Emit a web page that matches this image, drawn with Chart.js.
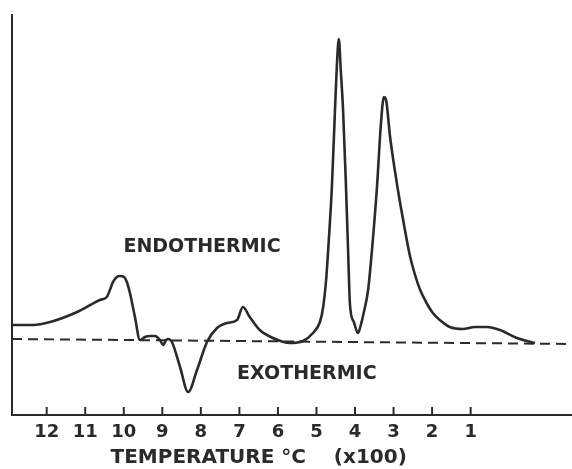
<!DOCTYPE html>
<html>
<head>
<meta charset="utf-8">
<script src="https://cdn.jsdelivr.net/npm/chart.js@4"></script>
<style>
  body { margin: 0; background: #fff; }
  canvas { display: block; }
</style>
</head>
<body>
<canvas id="myChart" width="572" height="469"></canvas>
<script>
// temperature (x100 °C) from left to right
const temps = [12.90, 12.35, 11.91, 11.21, 10.62, 10.44, 10.36, 10.28, 10.18, 10.10,
  9.99, 9.92, 9.84, 9.71, 9.58, 9.45, 9.32, 9.19, 9.06, 8.98,
  8.90, 8.85, 8.75, 8.54, 8.33, 8.10, 7.84, 7.58, 7.32, 7.06,
  6.91, 6.73, 6.47, 6.13, 5.69, 5.35, 5.09, 4.91, 4.83, 4.75,
  4.68, 4.60, 4.52, 4.47, 4.42, 4.37, 4.31, 4.24, 4.18, 4.13,
  4.03, 3.92, 3.85, 3.77, 3.66, 3.56, 3.43, 3.33, 3.25, 3.20,
  3.09, 2.96, 2.83, 2.70, 2.58, 2.45, 2.32, 2.13, 1.98, 1.80,
  1.54, 1.20, 0.89, 0.58, 0.24, -0.20, -0.67];
// differential signal (arbitrary units)
const signal = [9.0, 9.0, 9.3, 10.3, 11.5, 11.8, 12.5, 13.3, 13.8, 13.9,
  13.8, 13.3, 12.2, 9.8, 7.5, 7.8, 7.9, 7.9, 7.5, 7.0,
  7.5, 7.6, 7.3, 4.8, 2.3, 4.5, 7.3, 8.7, 9.2, 9.5,
  10.8, 9.8, 8.5, 7.7, 7.2, 7.4, 8.2, 9.3, 10.7, 13.5,
  17.5, 22.8, 30.5, 35.0, 37.6, 34.5, 30.5, 23.5, 16.5, 11.0,
  9.3, 8.2, 9.0, 10.3, 12.5, 16.5, 22.8, 29.0, 31.8, 31.6,
  27.8, 24.3, 21.2, 18.4, 16.0, 14.1, 12.6, 11.1, 10.2, 9.5,
  8.8, 8.6, 8.8, 8.8, 8.5, 7.7, 7.2];
// dashed base line ends
const baseTemps = [12.90, -1.63];
const baseSignal = [7.6, 7.1];
const tickValues = [12, 11, 10, 9, 8, 7, 6, 5, 4, 3, 2, 1];

const ink = '#2a2a2a';
const letterFont = '"DejaVu Sans", sans-serif';

const notes = [
  { text: 'ENDOTHERMIC', t: 7.97, v: 16.8 },
  { text: 'EXOTHERMIC', t: 5.25, v: 4.1 }
];
const axisTitle = { text: 'TEMPERATURE °C    (x100)', t: 6.5 };

const extras = {
  id: 'extras',
  afterDraw(chart) {
    const c = chart.ctx;
    const x = chart.scales.x, y = chart.scales.y;
    const bottom = chart.chartArea.bottom;
    c.save();
    // short ticks pointing up into the plot
    c.strokeStyle = ink;
    c.lineWidth = 2;
    x.ticks.forEach(tk => {
      const px = x.getPixelForValue(tk.value);
      c.beginPath();
      c.moveTo(px, bottom);
      c.lineTo(px, bottom - 8);
      c.stroke();
    });
    c.fillStyle = ink;
    c.textAlign = 'center';
    c.textBaseline = 'middle';
    c.font = 'bold 19px ' + letterFont;
    notes.forEach(n => {
      c.fillText(n.text, x.getPixelForValue(n.t), y.getPixelForValue(n.v));
    });
    c.font = 'bold 20px ' + letterFont;
    c.fillText(axisTitle.text, x.getPixelForValue(axisTitle.t), x.bottom - 11);
    c.restore();
  }
};

const ctx = document.getElementById('myChart');
new Chart(ctx, {
  type: 'line',
  data: {
    datasets: [{
      data: temps.map((t, i) => ({ x: t, y: signal[i] })),
      borderColor: ink,
      borderWidth: 2.6,
      pointRadius: 0,
      cubicInterpolationMode: 'monotone'
    }, {
      data: baseTemps.map((t, i) => ({ x: t, y: baseSignal[i] })),
      borderColor: ink,
      borderWidth: 2,
      borderDash: [10, 6],
      pointRadius: 0
    }]
  },
  options: {
    responsive: false,
    animation: false,
    layout: { padding: { left: 12, top: 15, right: 0, bottom: 0 } },
    plugins: { legend: { display: false }, tooltip: { enabled: false } },
    scales: {
      x: {
        type: 'linear',
        reverse: true,
        min: -1.63,
        max: 12.9,
        afterBuildTicks: s => { s.ticks = tickValues.map(v => ({ value: v })); },
        afterFit: s => { s.height = 54; },
        grid: { display: false, drawTicks: false },
        border: { display: true, color: ink, width: 2 },
        ticks: {
          color: ink,
          padding: 8,
          maxRotation: 0,
          autoSkip: false,
          font: { family: letterFont, size: 18, weight: 'bold', lineHeight: 1 }
        }
      },
      y: {
        min: 0,
        max: 40,
        grid: { display: false, drawTicks: false },
        border: { display: true, color: ink, width: 2 },
        ticks: { display: false }
      }
    }
  },
  plugins: [extras]
});
</script>
</body>
</html>
